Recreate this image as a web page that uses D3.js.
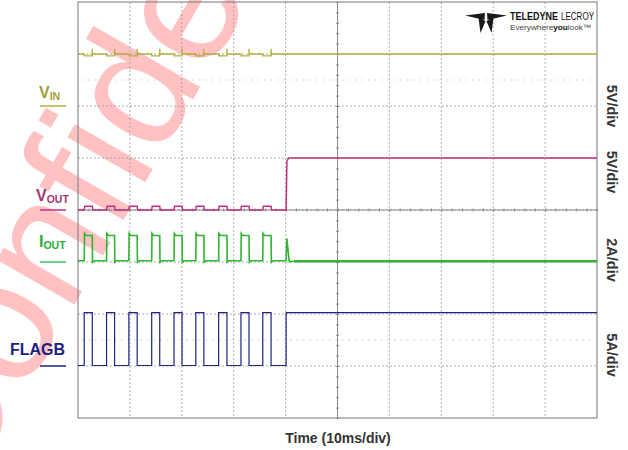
<!DOCTYPE html>
<html><head><meta charset="utf-8">
<script src="https://cdn.jsdelivr.net/npm/d3@7/dist/d3.min.js"></script>
<style>body{margin:0;background:#fff}svg{display:block}</style>
</head><body><svg id="c" width="628" height="450"></svg>
<script>
// ---------- data ----------
const gridTimesMs   = [0, 10, 20, 30, 40, 50, 60, 70, 80, 90, 100];
const gridDivs      = [-4, -3, -2, -1, 0, 1, 2, 3, 4];
const markerDivs    = [2.5, -2.5];
const pulseStartMs  = [1.2, 5.5, 9.8, 14.2, 18.5, 22.7, 27.1, 31.4, 35.6];
const pulseWidthMs  = [1.55, 1.55, 1.6, 1.55, 1.55, 1.55, 1.6, 1.55, 1.6];
const turnOnMs      = 40.1;
const endMs         = 100;
const vinDiv   = [3.0, 2.965, 3.1];               // steady, dip in pulse, spike at pulse end
const voutDiv  = [0.0, 0.07, 1.0];                // off, hiccup bump, regulated
const ioutDiv  = [-0.975, -0.49, -0.45, -0.55, -0.985]; // low, high, overshoot, turn-on spike, steady
const flagbDiv = [-2.99, -1.975];                 // low, high
const scaleLabels = ["5V/div", "5V/div", "2A/div", "5A/div"];
const xTitle = "Time (10ms/div)";
const watermarkText = "Confidential";

// ---------- setup ----------
const svg = d3.select("#c");
const x = d3.scaleLinear().domain([0, 100]).range([78, 597]);
const y = d3.scaleLinear().domain([-4, 4]).range([418, 2]);
const FONT = "Arial, 'Liberation Sans', Helvetica, sans-serif";

// watermark
svg.append("text").text(watermarkText)
  .attr("transform", "translate(-40,503) rotate(-60)")
  .attr("font-family", FONT).attr("font-size", 170)
  .attr("fill", "#ff1a1a").attr("fill-opacity", 0.27);

// grid
const g = svg.append("g");
g.selectAll(".vg").data(gridTimesMs.slice(1, -1)).join("line")
  .attr("x1", d => x(d)).attr("x2", d => x(d)).attr("y1", y(4)).attr("y2", y(-4))
  .attr("stroke", "#9a9a9a").attr("stroke-width", 0.8).attr("stroke-dasharray", "2,2");
g.selectAll(".hg").data(gridDivs.slice(1, -1)).join("line")
  .attr("y1", d => y(d)).attr("y2", d => y(d)).attr("x1", x(0)).attr("x2", x(100))
  .attr("stroke", "#9a9a9a").attr("stroke-width", 0.8).attr("stroke-dasharray", "2,2");
g.selectAll(".mk").data(markerDivs).join("line")
  .attr("y1", d => y(d)).attr("y2", d => y(d)).attr("x1", x(0) + 4).attr("x2", x(100) - 4)
  .attr("stroke", "#c8c8c8").attr("stroke-width", 1).attr("stroke-dasharray", "1.5,5");

// center axes with minor ticks
const axY = d3.axisRight(y).tickValues(d3.range(-4, 4.001, 0.2)).tickSize(3).tickFormat("");
const axYg = svg.append("g").attr("transform", `translate(${x(50) - 1.5},0)`).call(axY);
const axX = d3.axisBottom(x).tickValues(d3.range(0, 100.001, 2)).tickSize(3).tickFormat("");
const axXg = svg.append("g").attr("transform", `translate(0,${y(0) - 1.5})`).call(axX);
[axYg, axXg].forEach(a => { a.selectAll("path").remove(); a.selectAll("line").attr("stroke", "#8a8a8a"); });
svg.append("line").attr("x1", x(50)).attr("x2", x(50)).attr("y1", y(4)).attr("y2", y(-4)).attr("stroke", "#8a8a8a").attr("stroke-width", 1);
svg.append("line").attr("y1", y(0)).attr("y2", y(0)).attr("x1", x(0)).attr("x2", x(100)).attr("stroke", "#8a8a8a").attr("stroke-width", 1);

// border
svg.append("rect").attr("x", x(0)).attr("y", y(4)).attr("width", x(100) - x(0)).attr("height", y(-4) - y(4))
  .attr("fill", "none").attr("stroke", "#8c8c8c").attr("stroke-width", 1.2);

// ---------- build waveforms from pulse data ----------
function build(fn) { const pts = []; pulseStartMs.forEach((t0, i) => fn(pts, t0, pulseWidthMs[i])); return pts; }

const vin = [[0, vinDiv[0]]].concat(build((p, t, w) => {
  p.push([t, vinDiv[0]], [t, vinDiv[1]], [t + w, vinDiv[1]], [t + w, vinDiv[2]], [t + w + 0.05, vinDiv[0]]);
}), [[endMs, vinDiv[0]]]);

const vout = [[0, voutDiv[0]]].concat(build((p, t, w) => {
  p.push([t, voutDiv[0]], [t + 0.1, voutDiv[1]], [t + w, voutDiv[1]], [t + w + 0.1, voutDiv[0]]);
}), [[turnOnMs, voutDiv[0]], [turnOnMs + 0.15, voutDiv[2] - 0.06], [turnOnMs + 0.5, voutDiv[2]], [endMs, voutDiv[2]]]);

const ioutPulses = [[0, ioutDiv[0]]].concat(build((p, t, w) => {
  p.push([t, ioutDiv[0]], [t + 0.05, ioutDiv[2]], [t + 0.35, ioutDiv[1]], [t + w, ioutDiv[1]],
         [t + w + 0.05, ioutDiv[0] - 0.03], [t + w + 0.4, ioutDiv[0]]);
}), [[turnOnMs, ioutDiv[0]], [turnOnMs + 0.15, ioutDiv[3]], [turnOnMs + 0.6, ioutDiv[0] - 0.02], [turnOnMs + 1.5, ioutDiv[4]]]);
const ioutSteady = [[turnOnMs + 1.5, ioutDiv[4]], [endMs, ioutDiv[4]]];

const flagb = [[0, flagbDiv[0]]].concat(build((p, t, w) => {
  p.push([t, flagbDiv[0]], [t, flagbDiv[1]], [t + w, flagbDiv[1]], [t + w, flagbDiv[0]]);
}), [[turnOnMs, flagbDiv[0]], [turnOnMs, flagbDiv[1]], [endMs, flagbDiv[1]]]);

const line = d3.line().x(d => x(d[0])).y(d => y(d[1]));
const traces = [
  {d: vin, c: "#b2b03c", w: 1.3},
  {d: vout, c: "#c0307f", w: 1.5},
  {d: ioutPulses, c: "#2fb52f", w: 1.6},
  {d: ioutSteady, c: "#33b233", w: 2.6},
  {d: flagb, c: "#1e2283", w: 1.2}
];
svg.selectAll(".tr").data(traces).join("path")
  .attr("d", d => line(d.d)).attr("fill", "none")
  .attr("stroke", d => d.c).attr("stroke-width", d => d.w).attr("stroke-linejoin", "miter");

// ---------- left channel labels ----------
const labels = [
  {main: "V", sub: "IN", x: 39, yb: 98, ul: y(2), c: "#a29e3a", lc: "#b2b03c"},
  {main: "V", sub: "OUT", x: 36, yb: 201, ul: y(0), c: "#a3356f", lc: "#c0307f"},
  {main: "I", sub: "OUT", x: 39, yb: 247, ul: y(-1), c: "#27ad3a", lc: "#3cc06a"},
  {main: "FLAGB", sub: "", x: 10, yb: 355, ul: y(-3), c: "#1c1f80", lc: "#1e2283"}
];
labels.forEach(l => {
  const t = svg.append("text").attr("x", l.x).attr("y", l.yb)
    .attr("font-family", FONT).attr("font-weight", "bold").attr("fill", l.c).attr("font-size", 16);
  t.append("tspan").text(l.main);
  if (l.sub) t.append("tspan").text(l.sub).attr("font-size", 10.5).attr("dy", 1.5);
  svg.append("line").attr("x1", 40).attr("x2", 66).attr("y1", l.ul).attr("y2", l.ul)
    .attr("stroke", l.lc).attr("stroke-width", 1.5);
});

// ---------- right scale labels ----------
const scaleY = [106, 172, 260, 355];
scaleLabels.forEach((s, i) => {
  svg.append("text").text(s)
    .attr("transform", `translate(607,${scaleY[i]}) rotate(90)`)
    .attr("text-anchor", "middle").attr("font-family", FONT).attr("font-weight", "bold")
    .attr("font-size", 14.5).attr("fill", "#333");
});

// x title
svg.append("text").text(xTitle).attr("x", 338).attr("y", 443).attr("text-anchor", "middle")
  .attr("font-family", FONT).attr("font-weight", "bold").attr("font-size", 14).attr("fill", "#333");

// ---------- Teledyne LeCroy logo ----------
const lg = svg.append("g").attr("fill", "#1a1a1a");
lg.append("path").attr("d",
  "M465,15.5 L485,13 L484.5,20 Z M507,15.5 L487,13 L487.5,20 Z M478.5,18 L485.5,21 L480.5,33 Z M493.5,18 L486.5,21 L491.5,33 Z");
svg.append("text").text("TELEDYNE").attr("x", 510).attr("y", 19.5).attr("font-family", FONT)
  .attr("font-size", 10).attr("font-weight", "bold").attr("fill", "#111")
  .attr("textLength", 48).attr("lengthAdjust", "spacingAndGlyphs");
svg.append("text").text("LECROY").attr("x", 561).attr("y", 19.5).attr("font-family", FONT)
  .attr("font-size", 10).attr("fill", "#111")
  .attr("textLength", 33).attr("lengthAdjust", "spacingAndGlyphs");
const ev = svg.append("text").attr("x", 510).attr("y", 29.5).attr("font-family", FONT)
  .attr("font-size", 8).attr("fill", "#444").attr("textLength", 81).attr("lengthAdjust", "spacingAndGlyphs");
ev.append("tspan").text("Everywhere");
ev.append("tspan").text("you").attr("font-weight", "bold").attr("fill", "#111");
ev.append("tspan").text("look™");
</script></body></html>
